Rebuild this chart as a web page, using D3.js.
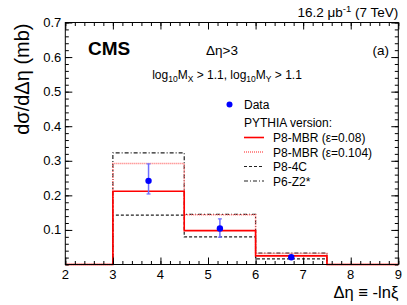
<!DOCTYPE html>
<html>
<head>
<meta charset="utf-8">
<script src="https://cdn.jsdelivr.net/npm/d3@7"></script>
<style>
  body { margin: 0; background: #fff; }
  svg { font-family: "Liberation Sans", Arial, sans-serif; }
</style>
</head>
<body>
<div id="chart"></div>
<script>
// bin edges of the histograms (eta gap)
const binEdges = [2, 3, 4.5, 6, 7.5, 9];

// PYTHIA predictions per bin, mb
const mbr008 = [0, 0.212, 0.098, 0.025, 0];
const mbr0104 = [0, 0.292, 0.144, 0.032, 0];
const p84c = [0, 0.143, 0.080, 0.016, 0];
const p6z2 = [0, 0.323, 0.145, 0.033, 0];

// measured points
const dataX = [3.75, 5.25, 6.75];
const dataY = [0.242, 0.104, 0.021];
const errUp = [0.049, 0.028, 0.004];
const errDown = [0.038, 0.025, 0.004];

const xTicks = [2, 3, 4, 5, 6, 7, 8, 9];
const yTicks = [0.1, 0.2, 0.3, 0.4, 0.5, 0.6, 0.7];

const legendItems = [
    { label: 'P8-MBR (\u03b5=0.08)', color: '#ff0000', dash: null, w: 1.6 },
    { label: 'P8-MBR (\u03b5=0.104)', color: '#ff6a6a', dash: '1,1', w: 1.5 },
    { label: 'P8-4C', color: '#222', dash: '3,2', w: 1.2 },
    { label: 'P6-Z2*', color: '#222', dash: '4,2,1,2', w: 1.2 }
];

let width = 407, height = 305;
let margin = { left: 65.3, right: 8.7, top: 22.5, bottom: 40.5 };

let svg = d3.select('#chart').append('svg')
    .attr('width', width)
    .attr('height', height);

let x = d3.scaleLinear().domain([2, 9]).range([margin.left, width - margin.right]);
let y = d3.scaleLinear().domain([0, 0.7]).range([height - margin.bottom, margin.top]);

let x0 = margin.left, x1 = width - margin.right;
let y0 = height - margin.bottom, y1 = margin.top;

// histograms
let steps = [
    { vals: p6z2, color: '#222', dash: '4,2,1,2', w: 1.2 },
    { vals: p84c, color: '#222', dash: '3,2', w: 1.2 },
    { vals: mbr0104, color: '#ff6a6a', dash: '1,1', w: 1.5 },
    { vals: mbr008, color: '#ff0000', dash: null, w: 1.6 }
];

let stepLine = d3.line()
    .x(d => x(d[0]))
    .y(d => y(d[1]))
    .curve(d3.curveStepAfter);

steps.forEach(s => {
    let pts = s.vals.map((v, i) => [binEdges[i], v]);
    pts.push([binEdges[binEdges.length - 1], 0]);
    svg.append('path')
        .attr('d', stepLine(pts))
        .attr('fill', 'none')
        .attr('stroke', s.color)
        .attr('stroke-width', s.w)
        .attr('stroke-dasharray', s.dash);
});

// data points with errors
let pts = svg.append('g');
dataX.forEach((dx, i) => {
    let cx = x(dx);
    let top = y(dataY[i] + errUp[i]), bot = y(dataY[i] - errDown[i]);
    pts.append('line')
        .attr('x1', cx).attr('x2', cx).attr('y1', top).attr('y2', bot)
        .attr('stroke', '#6d6dff').attr('stroke-width', 1.5);
    [top, bot].forEach(yy => {
        pts.append('line')
            .attr('x1', cx - 2).attr('x2', cx + 2).attr('y1', yy).attr('y2', yy)
            .attr('stroke', '#6d6dff').attr('stroke-width', 1.2);
    });
    pts.append('circle')
        .attr('cx', cx).attr('cy', y(dataY[i]))
        .attr('r', 3.2)
        .attr('fill', '#0000ff');
});

// frame
svg.append('rect')
    .attr('x', x0).attr('y', y1)
    .attr('width', x1 - x0).attr('height', y0 - y1)
    .attr('fill', 'none')
    .attr('stroke', '#000')
    .attr('stroke-width', 1);

// ticks, pointing inward on all sides
let xMinor = d3.range(2, 9.001, 0.2).map(v => +v.toFixed(2));
let yMinor = d3.range(0, 0.7001, 0.02).map(v => +v.toFixed(3));

function ticks(axis, vals, size, at) {
    let g = svg.append('g').attr('transform', at)
        .call(axis(axis === d3.axisBottom || axis === d3.axisTop ? x : y)
            .tickValues(vals).tickSize(-size).tickFormat(''));
    g.select('.domain').remove();
    g.selectAll('line').attr('stroke', '#000');
}
ticks(d3.axisBottom, xMinor, 3.5, `translate(0,${y0})`);
ticks(d3.axisBottom, xTicks, 7, `translate(0,${y0})`);
ticks(d3.axisTop, xMinor, 3.5, `translate(0,${y1})`);
ticks(d3.axisTop, xTicks, 7, `translate(0,${y1})`);
ticks(d3.axisLeft, yMinor, 3.5, `translate(${x0},0)`);
ticks(d3.axisLeft, yTicks, 7, `translate(${x0},0)`);
ticks(d3.axisRight, yMinor, 3.5, `translate(${x1},0)`);
ticks(d3.axisRight, yTicks, 7, `translate(${x1},0)`);

// tick labels
svg.append('g').selectAll('text')
    .data(xTicks).join('text')
    .attr('x', d => x(d)).attr('y', y0 + 14.5)
    .attr('text-anchor', 'middle')
    .attr('font-size', 13)
    .text(d => d);

svg.append('g').selectAll('text')
    .data(yTicks).join('text')
    .attr('x', x0 - 4).attr('y', d => y(d))
    .attr('dy', '0.35em')
    .attr('text-anchor', 'end')
    .attr('font-size', 13)
    .text(d => d.toFixed(1));

// axis titles
svg.append('text')
    .attr('x', x1).attr('y', 298)
    .attr('text-anchor', 'end')
    .attr('font-size', 16.5)
    .text('\u0394\u03b7 \u2261 -ln\u03be');

svg.append('text')
    .attr('transform', `translate(29,${y1 + 1}) rotate(-90)`)
    .attr('text-anchor', 'end')
    .attr('font-size', 20)
    .text('d\u03c3/d\u0394\u03b7 (mb)');

// header texts
let lumi = svg.append('text')
    .attr('x', x1).attr('y', 17)
    .attr('text-anchor', 'end')
    .attr('font-size', 13.5);
lumi.append('tspan').text('16.2 \u03bcb');
lumi.append('tspan').attr('dy', -5).attr('font-size', 9.5).text('-1');
lumi.append('tspan').attr('dy', 5).text(' (7 TeV)');

svg.append('text')
    .attr('x', 88).attr('y', 55)
    .attr('font-size', 19)
    .attr('font-weight', 'bold')
    .text('CMS');

svg.append('text')
    .attr('x', 222).attr('y', 55)
    .attr('text-anchor', 'middle')
    .attr('font-size', 13.5)
    .text('\u0394\u03b7>3');

svg.append('text')
    .attr('x', 389).attr('y', 55)
    .attr('text-anchor', 'end')
    .attr('font-size', 13.5)
    .text('(a)');

let cut = svg.append('text')
    .attr('x', 227).attr('y', 79)
    .attr('text-anchor', 'middle')
    .attr('font-size', 12);
cut.append('tspan').text('log');
cut.append('tspan').attr('dy', 3).attr('font-size', 8.5).text('10');
cut.append('tspan').attr('dy', -3).text('M');
cut.append('tspan').attr('dy', 3).attr('font-size', 8.5).text('X');
cut.append('tspan').attr('dy', -3).text(' > 1.1, log');
cut.append('tspan').attr('dy', 3).attr('font-size', 8.5).text('10');
cut.append('tspan').attr('dy', -3).text('M');
cut.append('tspan').attr('dy', 3).attr('font-size', 8.5).text('Y');
cut.append('tspan').attr('dy', -3).text(' > 1.1');

// legend
let legend = svg.append('g').attr('font-size', 12);
legend.append('circle').attr('cx', 229.5).attr('cy', 104.5).attr('r', 3).attr('fill', '#0000ff');
legend.append('text').attr('x', 244).attr('y', 109).text('Data');
legend.append('text').attr('x', 244).attr('y', 126.5).text('PYTHIA version:');

let rows = legend.selectAll('.legend-item')
    .data(legendItems).join('g')
    .attr('class', 'legend-item')
    .attr('transform', (d, i) => `translate(0,${137.5 + i * 14.5})`);
rows.append('line')
    .attr('x1', 244).attr('x2', 264).attr('y1', 0).attr('y2', 0)
    .attr('stroke', d => d.color)
    .attr('stroke-width', d => d.w)
    .attr('stroke-dasharray', d => d.dash);
rows.append('text')
    .attr('x', 273).attr('y', 4.5)
    .text(d => d.label);
</script>
</body>
</html>
